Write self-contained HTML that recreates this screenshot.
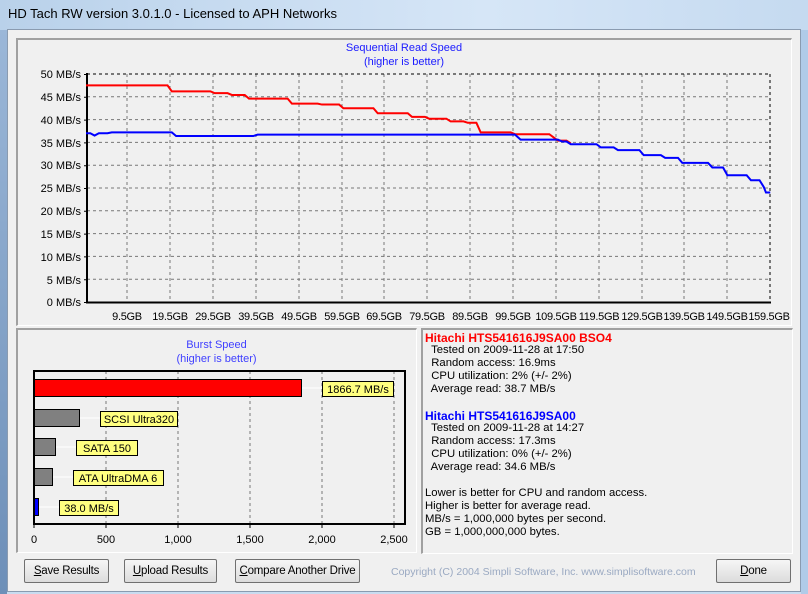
<!DOCTYPE html>
<html><head><style>
body{margin:0;width:808px;height:594px;overflow:hidden;background:#c9dcf0;font-family:"Liberation Sans",sans-serif;}
.abs{position:absolute}
.btn{position:absolute;top:559px;height:24px;border:1px solid #707070;border-radius:2px;background:linear-gradient(#f6f6f6,#dcdcdc);font-size:11.5px;text-align:center;line-height:23px;box-sizing:border-box;color:#000;white-space:nowrap;letter-spacing:-0.2px}
.info{position:absolute;left:425px;font-size:11.3px;color:#000;white-space:pre}
</style></head><body>
<div class="abs" style="left:0;top:0;width:808px;height:30px;background:linear-gradient(90deg,#b9d1ea,#d6e6f7 60%,#c5daf0)"></div>
<div class="abs" style="left:8px;top:6px;font-size:13px;color:#000">HD Tach RW version 3.0.1.0 - Licensed to APH Networks</div>
<div class="abs" style="left:0;top:30px;width:7px;height:564px;background:linear-gradient(#9bb7d8,#6d8fb8)"></div>
<div class="abs" style="left:801px;top:30px;width:7px;height:564px;background:#b0cbe8"></div>
<div class="abs" style="left:7px;top:29px;width:794px;height:563px;background:#f0f0f0;border:1px solid #8a9bb0;box-sizing:border-box"></div>
<div class="abs" style="left:16px;top:38px;width:776px;height:288px;border-top:2px solid #a0a0a0;border-left:2px solid #a0a0a0;border-right:1px solid #fff;border-bottom:1px solid #fff;box-sizing:border-box"></div>
<div class="abs" style="left:0;width:808px;top:41px;text-align:center;font-size:11px;color:#1a1aff;line-height:14px">Sequential Read Speed<br>(higher is better)</div>
<svg class="abs" style="left:0;top:0" width="808" height="594">
<g stroke="#777" stroke-dasharray="3,3" stroke-width="1">
<line x1="87" x2="770" y1="96.8" y2="96.8"/><line x1="87" x2="770" y1="119.6" y2="119.6"/><line x1="87" x2="770" y1="142.4" y2="142.4"/><line x1="87" x2="770" y1="165.2" y2="165.2"/><line x1="87" x2="770" y1="188" y2="188"/><line x1="87" x2="770" y1="210.8" y2="210.8"/><line x1="87" x2="770" y1="233.6" y2="233.6"/><line x1="87" x2="770" y1="256.4" y2="256.4"/><line x1="87" x2="770" y1="279.2" y2="279.2"/>
<line y1="74" y2="302" x1="127" x2="127"/><line y1="74" y2="302" x1="170" x2="170"/><line y1="74" y2="302" x1="213" x2="213"/><line y1="74" y2="302" x1="256" x2="256"/><line y1="74" y2="302" x1="299" x2="299"/><line y1="74" y2="302" x1="342" x2="342"/><line y1="74" y2="302" x1="384" x2="384"/><line y1="74" y2="302" x1="427" x2="427"/><line y1="74" y2="302" x1="470" x2="470"/><line y1="74" y2="302" x1="513" x2="513"/><line y1="74" y2="302" x1="556" x2="556"/><line y1="74" y2="302" x1="599" x2="599"/><line y1="74" y2="302" x1="642" x2="642"/><line y1="74" y2="302" x1="684" x2="684"/><line y1="74" y2="302" x1="727" x2="727"/>
<line x1="87" x2="770" y1="74" y2="74" stroke="#000"/><line x1="770" x2="770" y1="74" y2="302" stroke="#000"/>
</g>
<line x1="87" y1="73" x2="87" y2="303" stroke="#000" stroke-width="2"/>
<line x1="86" y1="302.5" x2="771" y2="302.5" stroke="#000" stroke-width="2"/>
<path stroke="#000" d="M84,74.5H87M84,97.3H87M84,120.1H87M84,142.9H87M84,165.7H87M84,188.5H87M84,211.3H87M84,234.1H87M84,256.9H87M84,279.7H87M84,302.5H87" />
<g transform="translate(86,302) scale(4.29,-4.56)" fill="none" stroke-width="2">
<path vector-effect="non-scaling-stroke" stroke="#f00" d="M0,47.5 H19 L20,46.2 H29 L30,45.8 H33 L34,45.4 H37 L38,44.6 H47 L48,43.5 H54 L55,43.3 H59 L60,42.5 H67 L68,41.4 H75 L76,40.6 H79 L80,40.2 H84 L85,39.6 H88 L89,39.3 H91 L92,37.2 H99 L100,36.8 H108 L110,35.4 H112 L113,34.8"/>
<path vector-effect="non-scaling-stroke" stroke="#00f" d="M0,37 H1 L2,36.5 L3,37 H5 L6,37.2 H20 L21,36.4 H39 L40,36.7 H100 L101.3,35.6 H110 L111,35.2 H112 L113,34.6 H119 L120,33.9 H123 L124,33.3 H129 L130,32.2 H134 L135,31.6 H138 L139,30.5 H145 L146,29.5 H148.5 L149.5,27.8 H154 L155,26.7 H157 L158,25.2 L158.5,24 H159.5"/>
</g>
<g font-size="11" fill="#000" text-anchor="end">
<text x="81" y="78">50 MB/s</text><text x="81" y="101">45 MB/s</text><text x="81" y="124">40 MB/s</text><text x="81" y="147">35 MB/s</text><text x="81" y="169">30 MB/s</text><text x="81" y="192">25 MB/s</text><text x="81" y="215">20 MB/s</text><text x="81" y="238">15 MB/s</text><text x="81" y="261">10 MB/s</text><text x="81" y="284">5 MB/s</text><text x="81" y="306">0 MB/s</text>
</g>
<g font-size="11" fill="#000" text-anchor="middle" letter-spacing="-0.3">
<text x="127" y="320">9.5GB</text><text x="170" y="320">19.5GB</text><text x="213" y="320">29.5GB</text><text x="256" y="320">39.5GB</text><text x="299" y="320">49.5GB</text><text x="342" y="320">59.5GB</text><text x="384" y="320">69.5GB</text><text x="427" y="320">79.5GB</text><text x="470" y="320">89.5GB</text><text x="513" y="320">99.5GB</text><text x="556" y="320">109.5GB</text><text x="599" y="320">119.5GB</text><text x="642" y="320">129.5GB</text><text x="684" y="320">139.5GB</text><text x="727" y="320">149.5GB</text><text x="769" y="320">159.5GB</text>
</g>
</svg>
<div class="abs" style="left:16px;top:328px;width:401px;height:225px;border-top:2px solid #a0a0a0;border-left:2px solid #a0a0a0;border-right:1px solid #fff;border-bottom:1px solid #fff;box-sizing:border-box"></div>
<div class="abs" style="left:16px;width:401px;top:338px;text-align:center;font-size:11px;color:#4040ff;line-height:14px">Burst Speed<br>(higher is better)</div>
<svg class="abs" style="left:0;top:0" width="808" height="594">
<g stroke="#777" stroke-dasharray="3,3"><line x1="106" x2="106" y1="371" y2="524"/><line x1="178" x2="178" y1="371" y2="524"/><line x1="250" x2="250" y1="371" y2="524"/><line x1="322" x2="322" y1="371" y2="524"/><line x1="394" x2="394" y1="371" y2="524"/></g>
<rect x="34" y="371" width="371" height="153" fill="none" stroke="#000" stroke-width="2"/>
<g stroke="#fff"><line x1="301" x2="322" y1="388" y2="388"/><line x1="79" x2="100" y1="418" y2="418"/><line x1="55" x2="76" y1="447" y2="447"/><line x1="52" x2="73" y1="477" y2="477"/><line x1="38" x2="59" y1="507" y2="507"/></g>
<rect x="34.5" y="379.5" width="267" height="17" fill="#f00" stroke="#000"/>
<rect x="34.5" y="409.5" width="45" height="17" fill="#808080" stroke="#000"/>
<rect x="34.5" y="438.5" width="21" height="17" fill="#808080" stroke="#000"/>
<rect x="34.5" y="468.5" width="18" height="17" fill="#808080" stroke="#000"/>
<rect x="34.5" y="498.5" width="4" height="17" fill="#00f" stroke="#000"/>
<g fill="#ffff80" stroke="#000"><rect x="322.5" y="381.5" width="71" height="15"/><rect x="100.5" y="411.5" width="77" height="15"/><rect x="76.5" y="440.5" width="61" height="15"/><rect x="73.5" y="470.5" width="90" height="15"/><rect x="59.5" y="500.5" width="59" height="15"/></g>
<g font-size="11" fill="#000" text-anchor="middle"><text x="358" y="393">1866.7 MB/s</text><text x="139" y="423">SCSI Ultra320</text><text x="107" y="452">SATA 150</text><text x="118" y="482">ATA UltraDMA 6</text><text x="89" y="512">38.0 MB/s</text>
<text x="34" y="543">0</text><text x="106" y="543">500</text><text x="178" y="543">1,000</text><text x="250" y="543">1,500</text><text x="322" y="543">2,000</text><text x="394" y="543">2,500</text></g>
<g stroke="#000"><line x1="34" x2="34" y1="524" y2="528"/><line x1="106" x2="106" y1="524" y2="528"/><line x1="178" x2="178" y1="524" y2="528"/><line x1="250" x2="250" y1="524" y2="528"/><line x1="322" x2="322" y1="524" y2="528"/><line x1="394" x2="394" y1="524" y2="528"/></g>
</svg>
<div class="abs" style="left:421px;top:328px;width:372px;height:226px;border-top:2px solid #a0a0a0;border-left:2px solid #a0a0a0;border-right:1px solid #fff;border-bottom:1px solid #fff;box-sizing:border-box"></div>
<div class="info" style="top:331px;font-weight:bold;color:#f00;font-size:12px">Hitachi HTS541616J9SA00 BSO4</div>
<div class="info" style="top:344px;line-height:13px">  Tested on 2009-11-28 at 17:50
  Random access: 16.9ms
  CPU utilization: 2% (+/- 2%)
  Average read: 38.7 MB/s</div>
<div class="info" style="top:409px;font-weight:bold;color:#00f;font-size:12px">Hitachi HTS541616J9SA00</div>
<div class="info" style="top:422px;line-height:13px">  Tested on 2009-11-28 at 14:27
  Random access: 17.3ms
  CPU utilization: 0% (+/- 2%)
  Average read: 34.6 MB/s</div>
<div class="info" style="top:487px;line-height:13px">Lower is better for CPU and random access.
Higher is better for average read.
MB/s = 1,000,000 bytes per second.
GB = 1,000,000,000 bytes.</div>
<div class="btn" style="left:24px;width:85px"><u>S</u>ave Results</div>
<div class="btn" style="left:124px;width:93px"><u>U</u>pload Results</div>
<div class="btn" style="left:235px;width:125px"><u>C</u>ompare Another Drive</div>
<div class="btn" style="left:716px;width:75px"><u>D</u>one</div>
<div class="abs" style="left:391px;top:566px;font-size:10.5px;color:#9aa9c2;white-space:nowrap">Copyright (C) 2004 Simpli Software, Inc. www.simplisoftware.com</div>
</body></html>
